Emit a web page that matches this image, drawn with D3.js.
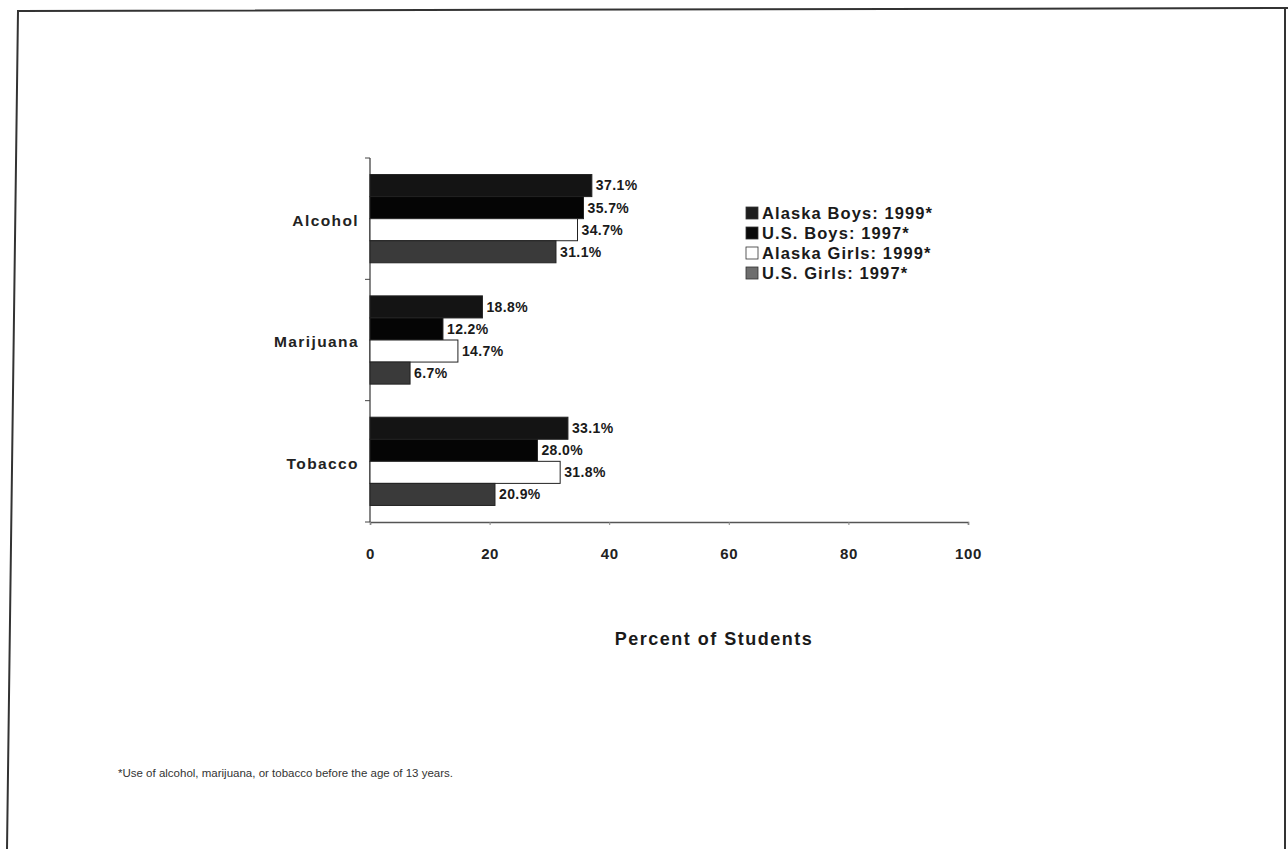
<!DOCTYPE html>
<html>
  <head>
    <script src="https://d3js.org/d3.v7.min.js"></script>
    <style>
      body { margin: 0; background: #fff; }
      text { font-family: "Liberation Sans", Arial, sans-serif; }
    </style>
  </head>
  <body>
    <div id="chart"></div>
    <script>
      var categories = ["Alcohol", "Marijuana", "Tobacco"];
      var seriesNames = ["Alaska Boys: 1999*", "U.S. Boys: 1997*", "Alaska Girls: 1999*", "U.S. Girls: 1997*"];
      var alaskaBoys = [37.1, 18.8, 33.1];
      var usBoys = [35.7, 12.2, 28.0];
      var alaskaGirls = [34.7, 14.7, 31.8];
      var usGirls = [31.1, 6.7, 20.9];
      var xTicks = [0, 20, 40, 60, 80, 100];

      var seriesValues = [alaskaBoys, usBoys, alaskaGirls, usGirls];
      var fills = ["#141414", "#050505", "#ffffff", "#3a3a3a"];
      var legendFills = ["#1e1e1e", "#0a0a0a", "#ffffff", "#6e6e6e"];

      var W = 1288, H = 849;
      var svg = d3.select("#chart").append("svg").attr("width", W).attr("height", H);

      // scanned page frame
      svg.append("path")
        .attr("d", "M7,849 L18,11 L1288,8 M1285,9 L1285,849")
        .attr("fill", "none")
        .attr("stroke", "#333")
        .attr("stroke-width", 2);

      var x = d3.scaleLinear().domain([0, 100]).range([370, 968]);
      var y = d3.scaleBand().domain(categories).range([158, 522]);
      var ySub = d3.scaleBand().domain(seriesNames).range([0, y.bandwidth()]).paddingInner(0).paddingOuter(0.75);

      // x axis
      var xAxis = svg.append("g").attr("transform", "translate(0,522)")
        .call(d3.axisBottom(x).tickValues(xTicks).tickSize(3).tickPadding(23).tickFormat(d3.format("d")));
      xAxis.select(".domain").attr("stroke", "#555").attr("stroke-width", 1.5);
      xAxis.selectAll(".tick line").attr("stroke", "#888");
      xAxis.selectAll(".tick text").attr("font-size", "15px").attr("font-weight", "bold").attr("fill", "#222")
        .attr("letter-spacing", "0.6px")
        .style("font-family", "Liberation Sans, Arial, sans-serif");

      // y axis with ticks between categories
      var yg = svg.append("g");
      yg.append("line").attr("x1", x(0)).attr("x2", x(0)).attr("y1", y.range()[0]).attr("y2", y.range()[1])
        .attr("stroke", "#444").attr("stroke-width", 1.3);
      yg.selectAll("line.tk").data(categories.concat(["end"])).enter().append("line").attr("class", "tk")
        .attr("x1", x(0) - 5).attr("x2", x(0))
        .attr("y1", function (d, i) { return i < categories.length ? y(d) : y.range()[1]; })
        .attr("y2", function (d, i) { return i < categories.length ? y(d) : y.range()[1]; })
        .attr("stroke", "#444");
      yg.selectAll("text").data(categories).enter().append("text")
        .attr("x", 359)
        .attr("y", function (d) { return y(d) + y.bandwidth() / 2 + 2; })
        .attr("dy", "0.35em")
        .attr("text-anchor", "end")
        .attr("font-size", "15.5px")
        .attr("font-weight", "bold")
        .attr("letter-spacing", "1.4px")
        .attr("fill", "#222")
        .text(function (d) { return d; });

      // bars
      var rows = [];
      categories.forEach(function (c, ci) {
        seriesNames.forEach(function (s, si) {
          rows.push({ cat: c, series: s, si: si, value: seriesValues[si][ci] });
        });
      });

      svg.append("g").selectAll("rect").data(rows).enter().append("rect")
        .attr("x", x(0))
        .attr("y", function (d) { return y(d.cat) + ySub(d.series); })
        .attr("width", function (d) { return x(d.value) - x(0); })
        .attr("height", ySub.bandwidth())
        .attr("fill", function (d) { return fills[d.si]; })
        .attr("stroke", "#222")
        .attr("stroke-width", 1);

      svg.append("g").selectAll("text").data(rows).enter().append("text")
        .attr("x", function (d) { return x(d.value) + 4; })
        .attr("y", function (d) { return y(d.cat) + ySub(d.series) + ySub.bandwidth() / 2; })
        .attr("dy", "0.35em")
        .attr("font-size", "14px")
        .attr("font-weight", "bold")
        .attr("letter-spacing", "0.4px")
        .attr("fill", "#1a1a1a")
        .text(function (d) { return d.value.toFixed(1) + "%"; });

      // legend
      var legend = svg.append("g").attr("transform", "translate(746,213)");
      var items = legend.selectAll("g").data(seriesNames).enter().append("g")
        .attr("transform", function (d, i) { return "translate(0," + i * 20 + ")"; });
      items.append("rect").attr("x", 0).attr("y", -6).attr("width", 12).attr("height", 12)
        .attr("fill", function (d, i) { return legendFills[i]; })
        .attr("stroke", "#333").attr("stroke-width", 0.8);
      items.append("text").attr("x", 16).attr("y", 0).attr("dy", "0.35em")
        .attr("font-size", "16.5px").attr("font-weight", "bold").attr("letter-spacing", "1.1px").attr("fill", "#1a1a1a")
        .text(function (d) { return d; });

      // axis title
      svg.append("text").attr("x", 714).attr("y", 645).attr("text-anchor", "middle")
        .attr("font-size", "18px").attr("font-weight", "bold").attr("letter-spacing", "1.5px").attr("fill", "#1a1a1a")
        .text("Percent of Students");

      // footnote
      svg.append("text").attr("x", 118).attr("y", 777)
        .attr("font-size", "11.5px").attr("fill", "#333")
        .text("*Use of alcohol, marijuana, or tobacco before the age of 13 years.");
    </script>
  </body>
</html>
